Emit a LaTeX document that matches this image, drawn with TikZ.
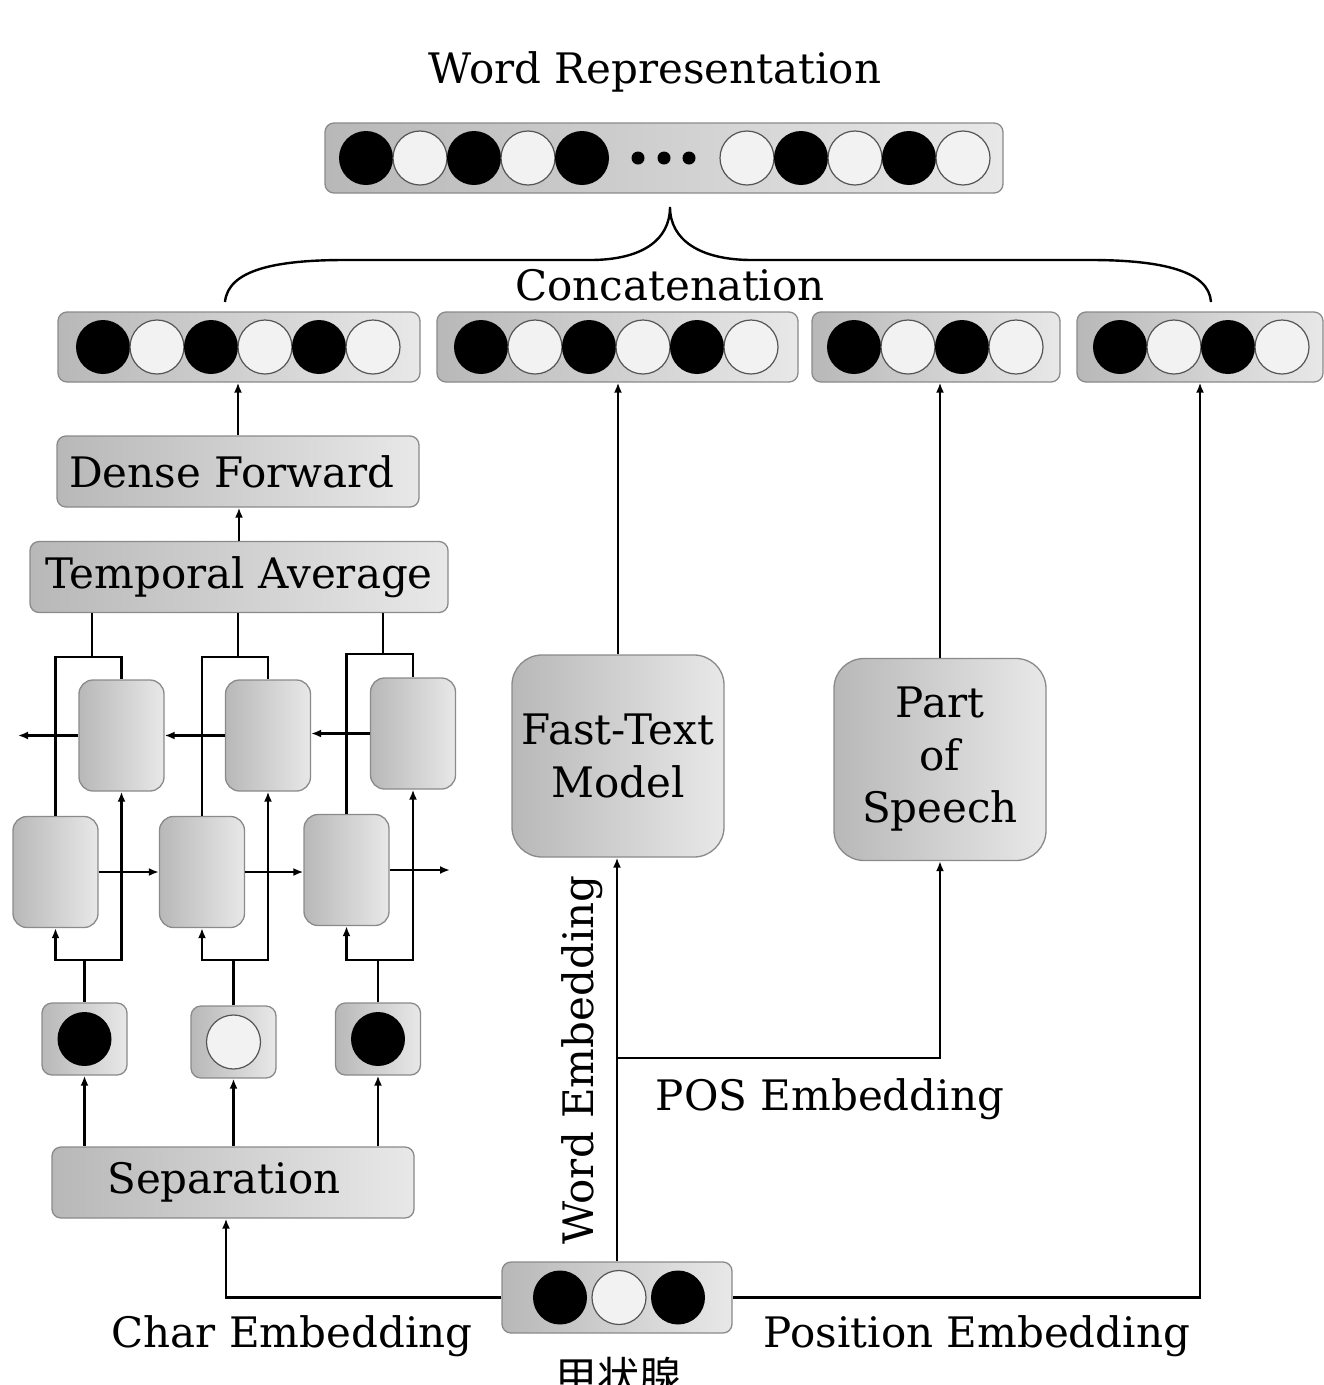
\documentclass[tikz,border=0pt]{standalone}
\usepackage{fontspec}
\setmainfont{DejaVu Serif}
\newfontfamily\cjk{Noto Sans CJK SC}
\usetikzlibrary{arrows.meta,positioning,calc}
\definecolor{wrShadeL}{HTML}{B8B8B8}
\definecolor{wrShadeR}{HTML}{E8E8E8}
\definecolor{wrEdge}{HTML}{8A8A8A}
\definecolor{wrWhite}{HTML}{F2F2F2}
\definecolor{wrRing}{HTML}{555555}
\newcommand{\lblfont}{\fontsize{42}{52.5}\selectfont}
\tikzset{
  >={Latex[length=10pt,width=8pt]},
  vecbox/.style={rounded corners=9pt, draw=wrEdge, line width=1.3pt,
              left color=wrShadeL, right color=wrShadeR, inner sep=0pt},
  layer/.style={vecbox, font=\lblfont, align=center},
  cellbox/.style={vecbox, rounded corners=14pt, minimum width=85pt, minimum height=111pt},
  bigbox/.style={vecbox, rounded corners=30pt, font=\lblfont, align=center,
              minimum width=212pt, minimum height=202pt},
  dotb/.style={circle, fill=black, minimum size=54pt, inner sep=0pt},
  dotw/.style={circle, draw=wrRing, line width=1.2pt, fill=wrWhite,
              minimum size=54pt, inner sep=0pt},
  lbl/.style={font=\lblfont},
  flow/.style={->, line width=2.6pt},
  wire/.style={line width=2.6pt},
}

\begin{document}
\begin{tikzpicture}[x=1pt,y=-1pt]
    \useasboundingbox (0,0) rectangle (1324,1385);
    \clip (0,0) rectangle (1324,1385);
    % word representation
    \node[lbl,anchor=base] (title) at (655,83) {Word Representation};
    \node[vecbox,minimum width=678pt,minimum height=70pt] (wr) at (664,158) {};
    \foreach \cx/\kind [count=\i] in {366/b,420/w,474/b,528/w,582/b,747/w,801/b,855/w,909/b,963/w}
      \node[dot\kind] (wr\i) at (\cx,158) {};
    \foreach \cx in {638,664,689}
      \fill (\cx,158) circle (6.5pt);
    % concatenation brace
    \coordinate (bl) at (225,302);
    \coordinate (br) at (1211,302);
    \coordinate (tip) at (670,207);
    \draw[line width=2.4pt] (bl) .. controls (228,270) and (275,260) .. (345,260)
      -- (590,260) .. controls (642,260) and (670,240) .. (tip)
      .. controls (670,240) and (700,260) .. (752,260)
      -- (1090,260) .. controls (1165,260) and (1209,272) .. (br);
    \node[lbl,anchor=base] (cat) at (670,300) {Concatenation};
    % the four parts
    \node[vecbox,minimum width=362pt,minimum height=70pt] (v1) at (239,347) {};
    \foreach \cx/\kind [count=\i] in {103/b,157/w,211/b,265/w,319/b,373/w}
      \node[dot\kind] (v1c\i) at (\cx,347) {};
    \node[vecbox,minimum width=361pt,minimum height=70pt] (v2) at (617.5,347) {};
    \foreach \cx/\kind [count=\i] in {481/b,535/w,589/b,643/w,697/b,751/w}
      \node[dot\kind] (v2c\i) at (\cx,347) {};
    \node[vecbox,minimum width=248pt,minimum height=70pt] (v3) at (936,347) {};
    \foreach \cx/\kind [count=\i] in {854/b,908/w,962/b,1016/w}
      \node[dot\kind] (v3c\i) at (\cx,347) {};
    \node[vecbox,minimum width=246pt,minimum height=70pt] (v4) at (1200,347) {};
    \foreach \cx/\kind [count=\i] in {1120/b,1174/w,1228/b,1282/w}
      \node[dot\kind] (v4c\i) at (\cx,347) {};
    % char branch
    \node[layer,minimum width=362pt,minimum height=71pt] (df) at (238,471.5) {Dense Forward\hspace*{12pt}};
    \node[layer,minimum width=418pt,minimum height=71pt] (ta) at (239,577) {Temporal Average};
    \draw[flow] (df.north) -- (df.north |- v1.south);
    \draw[flow] (ta.north) -- (ta.north |- df.south);
    \node[cellbox] (bw1) at (121.5,735.5) {};
    \node[cellbox] (bw2) at (268,735.5) {};
    \node[cellbox] (bw3) at (413,733.5) {};
    \node[cellbox] (fw1) at (55.5,872) {};
    \node[cellbox] (fw2) at (202,872) {};
    \node[cellbox] (fw3) at (346.5,870) {};
    \coordinate (j1) at (92,657);
    \coordinate (j2) at (238,657);
    \coordinate (j3) at (383,654);
    \foreach \k in {1,2,3}{
      \draw[wire] (ta.south -| j\k) -- (j\k);
      \draw[wire] (fw\k.north) |- (j\k) -| (bw\k.north);
    }
    \coordinate (bwend) at (18,735.5);
    \coordinate (fwend) at (450,870);
    \draw[flow] (bw1.west) -- (bwend);
    \draw[flow] (bw2.west) -- (bw1.east);
    \draw[flow] (bw3.west) -- (bw3.west -| bw2.east);
    \draw[flow] (fw1.east) -- (fw1.east -| fw2.west);
    \draw[flow] (fw2.east) -- (fw2.east -| fw3.west);
    \draw[flow] (fw3.east) -- (fwend);
    \node[vecbox,rounded corners=10pt,minimum width=85pt,minimum height=72pt] (c1) at (84.5,1039) {};
    \node[vecbox,rounded corners=10pt,minimum width=85pt,minimum height=72pt] (c2) at (233.5,1042) {};
    \node[vecbox,rounded corners=10pt,minimum width=85pt,minimum height=72pt] (c3) at (378,1039) {};
    \node[dotb] (c1d) at (c1) {};
    \node[dotw] (c2d) at (c2) {};
    \node[dotb] (c3d) at (c3) {};
    \coordinate (s1) at (88,960);
    \coordinate (s2) at (235,960);
    \coordinate (s3) at (380,960);
    \foreach \k in {1,2,3}{
      \draw[wire] (c\k.north) -- (c\k.north |- s\k);
      \draw[flow] (c\k.north |- s\k) -| (fw\k.south);
      \draw[flow] (c\k.north |- s\k) -| (bw\k.south);
    }
    \node[layer,minimum width=362pt,minimum height=71pt] (sep) at (233,1182.5) {Separation\hspace*{18pt}};
    \foreach \k in {1,2,3}
      \draw[flow] (sep.north -| c\k.south) -- (c\k.south);
    % word branch
    \node[bigbox] (ft) at (618,756) {\raisebox{-5pt}{Fast-Text}\\\raisebox{-5pt}{Model}};
    \node[bigbox] (pos) at (940,759.5) {\raisebox{-5pt}{Part}\\\raisebox{-5pt}{of}\\\raisebox{-5pt}{Speech}};
    \draw[flow] (ft.north) -- (ft.north |- v2.south);
    \draw[flow] (pos.north) -- (pos.north |- v3.south);
    \node[vecbox,minimum width=230pt,minimum height=71pt] (we) at (617,1297.5) {};
    \node[dotb] (we1) at (560,1297.5) {};
    \node[dotw] (we2) at (619,1297.5) {};
    \node[dotb] (we3) at (678,1297.5) {};
    \node[anchor=base,font=\lblfont\cjk] (word) at (618,1392) {甲状腺};
    \coordinate (br1) at (617,1058);
    \draw[flow] (we.north) -- (we.north |- ft.south);
    \draw[flow] (br1) -| (pos.south);
    \draw[flow] (we.west) -| ($(sep.south)+(-7,0)$);
    \draw[flow] (we.east) -| (v4.south);
    \node[lbl,anchor=base] (charlbl) at (292,1347) {Char Embedding};
    \node[lbl,anchor=base] (poslbl) at (977,1347) {Position Embedding};
    \node[lbl,anchor=base] (poselbl) at (830,1110) {POS Embedding};
    \node[lbl,rotate=90,anchor=base] (wordlbl) at (593,1060) {Word Embedding};
\end{tikzpicture}
\end{document}
